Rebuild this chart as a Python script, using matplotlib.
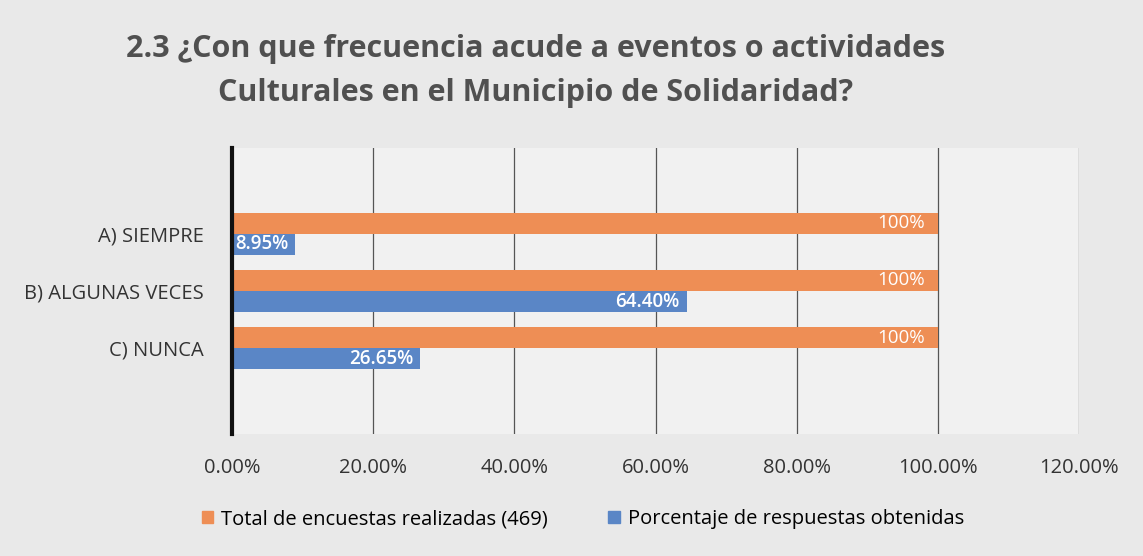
import matplotlib
matplotlib.use("Agg")
import matplotlib.pyplot as plt
from matplotlib.ticker import FuncFormatter
from matplotlib.patches import Patch

categories = ["A) SIEMPRE", "B) ALGUNAS VECES", "C) NUNCA"]
total_vals = [100, 100, 100]
resp_vals = [8.95, 64.40, 26.65]
total_labels = ["100%", "100%", "100%"]
resp_labels = ["8.95%", "64.40%", "26.65%"]
xticks = [0, 20, 40, 60, 80, 100, 120]
legend_labels = ["Total de encuestas realizadas (469)", "Porcentaje de respuestas obtenidas"]

orange = "#EE8E55"
blue = "#5A86C6"
font = "Open Sans"
plt.rcParams['font.family'] = [font, 'DejaVu Sans']

W, H = 1143, 556
fig = plt.figure(figsize=(W/100, H/100), dpi=100, facecolor="#E9E9E9")
ax = fig.add_axes([232/W, 1-434/H, (1079-232)/W, (434-148)/H])
ax.set_facecolor("#F1F1F1")

ypos = [1, 2, 3]
h = 0.37
yo = [y - h/2 for y in ypos]
yb = [y + h/2 for y in ypos]
ax.barh(yo, total_vals, height=h, color=orange, zorder=3)
ax.barh(yb, resp_vals, height=h, color=blue, zorder=3)

for y, v, t in zip(yo, total_vals, total_labels):
    ax.text(v - 1.8, y, t, color="white", ha="right", va="center", fontsize=13.5, zorder=4)
for y, v, t in zip(yb, resp_vals, resp_labels):
    ax.text(v - 1.0, y, t, color="white", ha="right", va="center", fontsize=13.5,
            fontweight="semibold", zorder=4)

ax.set_xlim(0, 120)
ax.set_ylim(4.5, -0.5)
ax.set_xticks(xticks)
ax.xaxis.set_major_formatter(FuncFormatter(lambda v, p: f"{v:.2f}%"))
ax.set_yticks(ypos)
ax.set_yticklabels(categories)
ax.tick_params(axis="both", length=0, labelsize=14.5, colors="#333333")
ax.tick_params(axis="x", pad=17)
ax.tick_params(axis="y", pad=20)
ax.grid(axis="x", color="#555555", linewidth=0.9, zorder=0)
for s in ["top", "right", "bottom"]:
    ax.spines[s].set_visible(False)
ax.spines["left"].set_linewidth(3)
ax.spines["left"].set_color("#111111")
ax.spines["left"].set_zorder(5)

fig.text(536/W, 1-71/H, "2.3 ¿Con que frecuencia acude a eventos o actividades\nCulturales en el Municipio de Solidaridad?",
         ha="center", va="center", fontsize=22, fontweight="bold", color="#505050",
         linespacing=1.6)

handles = [Patch(color=orange), Patch(color=blue)]
fig.legend(handles, legend_labels, loc="center", bbox_to_anchor=(583/W, 1-519/H), ncol=2,
           frameon=False, fontsize=14.5, handlelength=0.55, handleheight=0.55,
           handletextpad=0.4, columnspacing=3.0)

fig.savefig("out.png", dpi=100, facecolor=fig.get_facecolor())
